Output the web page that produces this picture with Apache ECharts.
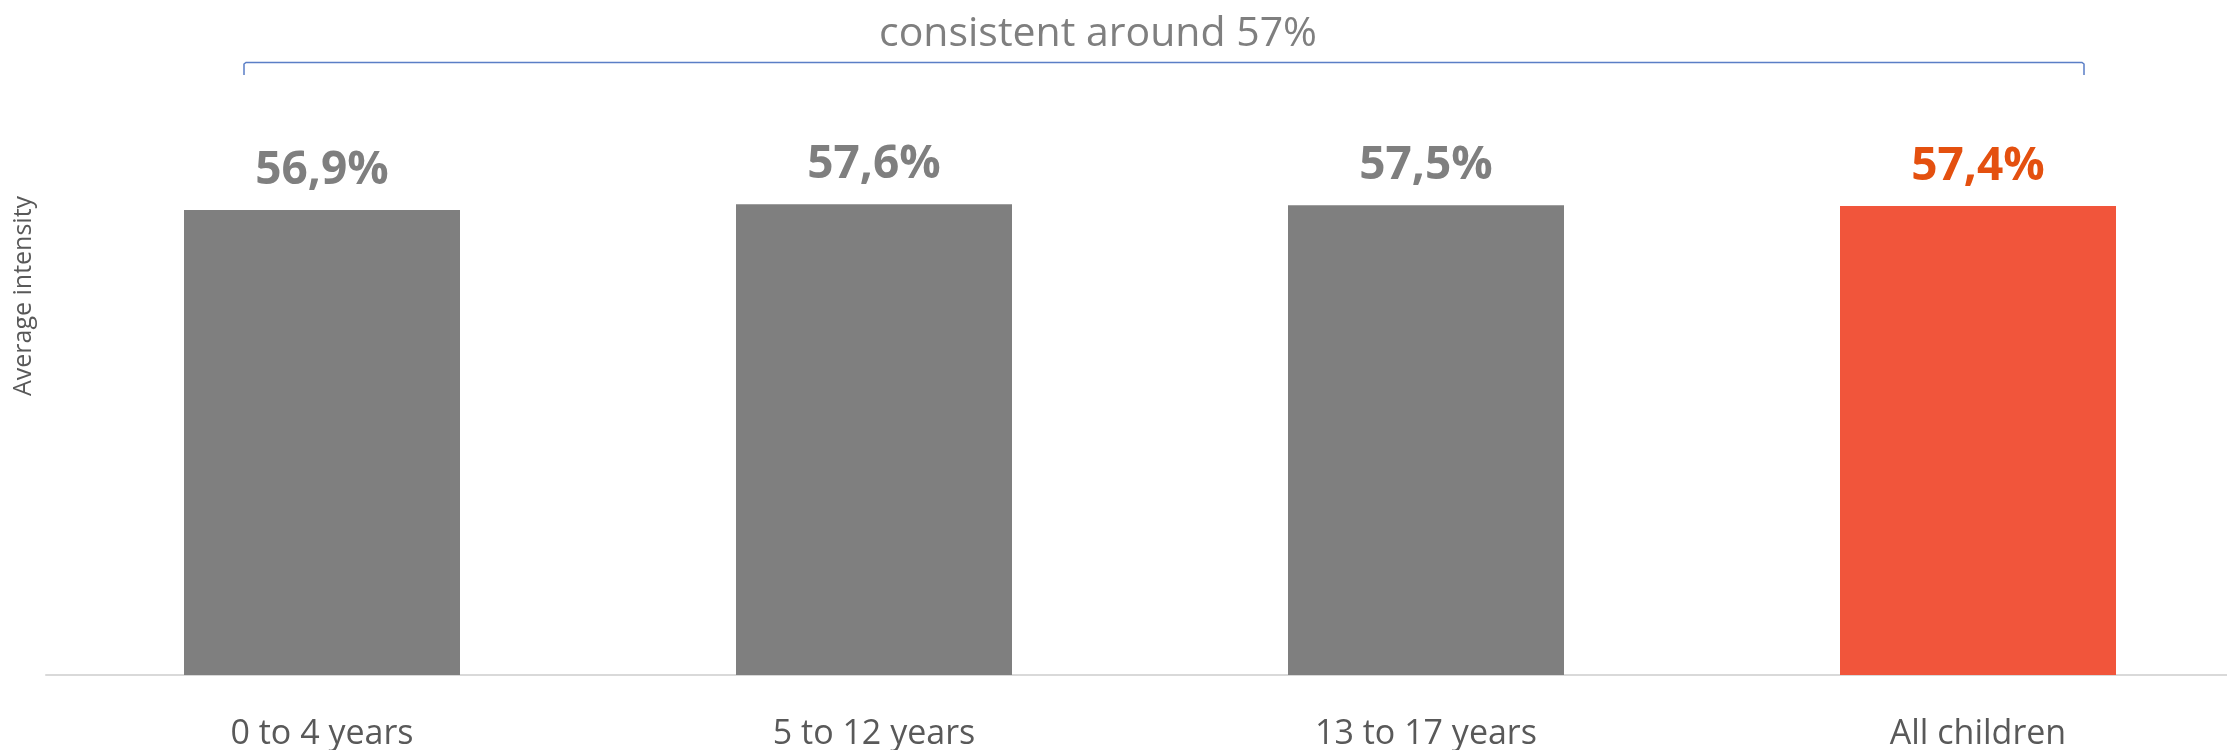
<!DOCTYPE html>
<html>
<head>
<meta charset="utf-8">
<script src="https://cdn.jsdelivr.net/npm/echarts@6/dist/echarts.min.js"></script>
<style>
  html, body { margin: 0; padding: 0; background: #ffffff; }
  #chart { width: 2227px; height: 750px; }
</style>
</head>
<body>
<div id="chart"></div>
<script>
// Age groups and their average intensity (%)
const categories = ['0 to 4 years', '5 to 12 years', '13 to 17 years', 'All children'];
const intensity = [56.9, 57.6, 57.5, 57.4];
const highlighted = [false, false, false, true];
const valueLabels = ['56,9%', '57,6%', '57,5%', '57,4%'];
const bracketText = 'consistent around 57%';
const yAxisTitle = 'Average intensity';

const GREY = '#7f7f7f';
const ORANGE = '#f1553b';
const ORANGE_TEXT = '#e4500f';

const chart = echarts.init(document.getElementById('chart'), null, { renderer: 'canvas' });

const barData = intensity.map((v, i) => ({
  value: v,
  itemStyle: { color: highlighted[i] ? ORANGE : GREY },
  label: {
    color: highlighted[i] ? ORANGE_TEXT : GREY,
    formatter: valueLabels[i]
  }
}));

chart.setOption({
  animation: false,
  backgroundColor: '#ffffff',
  // the last category band runs past the right edge of the canvas
  grid: { left: 46, width: 2208, top: 103, bottom: 75, outerBoundsMode: 'none', containLabel: false },
  xAxis: {
    type: 'category',
    data: categories,
    axisLine: { show: true, lineStyle: { color: '#d9d9d9', width: 2 } },
    axisTick: { show: false },
    axisLabel: {
      color: '#595959',
      fontFamily: "'Open Sans', sans-serif",
      fontSize: 34,
      margin: 42
    }
  },
  yAxis: {
    type: 'value',
    min: 0,
    max: 70,
    show: false,
    splitLine: { show: false }
  },
  series: [{
    type: 'bar',
    data: barData,
    barWidth: 276,
    label: {
      show: true,
      position: 'top',
      distance: 16,
      fontFamily: "'Liberation Sans Narrow', 'Open Sans', sans-serif",
      fontWeight: 'bold',
      fontSize: 46
    }
  }],
  graphic: [
    {
      type: 'text',
      x: 1098,
      y: 34,
      style: {
        text: bracketText,
        fill: '#7f7f7f',
        font: "41px 'Open Sans', sans-serif",
        align: 'center',
        verticalAlign: 'middle'
      }
    },
    {
      type: 'polyline',
      shape: { points: [[244, 75], [244, 64], [246, 62.5], [2082, 62.5], [2084, 64], [2084, 75]] },
      style: { stroke: '#5a7ec6', lineWidth: 1.5, fill: null }
    },
    {
      type: 'text',
      rotation: Math.PI / 2,
      x: 24,
      y: 296,
      style: {
        text: yAxisTitle,
        fill: '#595959',
        font: "25px 'Open Sans', sans-serif",
        align: 'center',
        verticalAlign: 'middle'
      }
    }
  ]
});
</script>
</body>
</html>
